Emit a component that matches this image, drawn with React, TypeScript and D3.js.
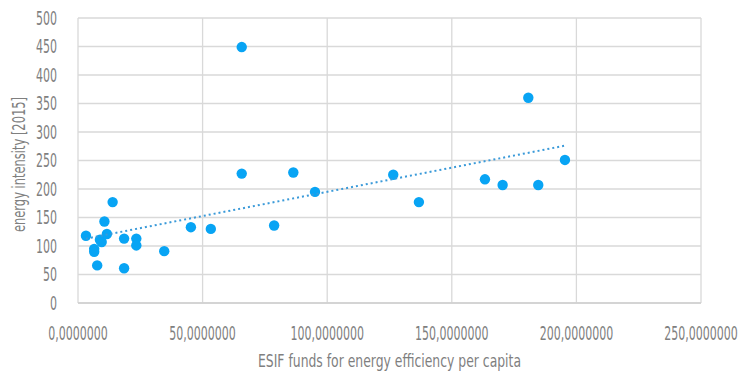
import React from 'react';
import * as d3 from 'd3';

// ESIF funds per capita (x) vs energy intensity 2015 (y)
const fundsPerCapita = [
  3.2, 6.5, 6.5, 7.7, 8.8, 9.5, 10.6, 11.6, 13.9, 18.5, 18.5, 23.4, 23.4, 34.6,
  45.3, 53.3, 65.7, 65.7, 78.7, 86.4, 95.1, 126.5, 136.8, 163.3, 170.4, 180.7, 184.7, 195.4,
];
const energyIntensity = [
  118, 95, 90, 66, 111, 107, 143, 121, 177, 113, 61, 113, 101, 91,
  133, 130, 449, 227, 136, 229, 195, 225, 177, 217, 207, 360, 207, 251,
];
const xTicks = [0, 50, 100, 150, 200, 250];
const xTickLabels = ['0,0000000', '50,0000000', '100,0000000', '150,0000000', '200,0000000', '250,0000000'];
const yTicks = [0, 50, 100, 150, 200, 250, 300, 350, 400, 450, 500];

const W = 743;
const H = 375;
const margin = { top: 18, right: 42, bottom: 72, left: 78 };
const font = '"DejaVu Sans Condensed", "Liberation Sans", sans-serif';
const grey = '#7f7f7f';
// the reference uses a narrow DIN-like face; squeeze DejaVu horizontally to match
const squeeze = 0.645;

const App: React.FC = () => {
  const x = d3.scaleLinear().domain([0, 250]).range([margin.left, W - margin.right]);
  const y = d3.scaleLinear().domain([0, 500]).range([H - margin.bottom, margin.top]);

  const points = fundsPerCapita.map((v, i) => ({ x: v, y: energyIntensity[i] }));

  // Linear trendline (least squares) over the data's x range
  const mx = d3.mean(points, d => d.x) || 0;
  const my = d3.mean(points, d => d.y) || 0;
  const slope =
    d3.sum(points, d => (d.x - mx) * (d.y - my)) / d3.sum(points, d => (d.x - mx) ** 2);
  const intercept = my - slope * mx;
  const [xmin, xmax] = d3.extent(points, d => d.x) as [number, number];
  const trend = d3.line<number>()
    .x(d => x(d))
    .y(d => y(intercept + slope * d))([xmin, xmax]);

  return (
    <div style={{ position: 'absolute', left: 0, top: 0 }}>
      <svg width={W} height={H} style={{ display: 'block', background: '#fff' }}>
        {/* grid */}
        {yTicks.map(t => (
          <line key={'gy' + t} x1={x(0)} x2={x(250)} y1={y(t)} y2={y(t)} stroke="#d9d9d9" strokeWidth={1.3} />
        ))}
        {xTicks.map(t => (
          <line key={'gx' + t} x1={x(t)} x2={x(t)} y1={y(0)} y2={y(500)} stroke="#d9d9d9" strokeWidth={1.3} />
        ))}
        <line x1={x(0)} x2={x(250)} y1={y(0)} y2={y(0)} stroke="#cfcfcf" strokeWidth={1.3} />

        {/* tick labels */}
        {yTicks.map(t => (
          <text key={'ly' + t} transform={`translate(${x(0) - 21},${y(t)}) scale(${squeeze},1)`}
            dy="0.36em" textAnchor="end" fill={grey} fontFamily={font} fontSize={19}>{t}</text>
        ))}
        {xTicks.map((t, i) => (
          <text key={'lx' + t} transform={`translate(${x(t)},${y(0) + 37}) scale(${squeeze},1)`}
            textAnchor="middle" fill={grey} fontFamily={font} fontSize={19}>{xTickLabels[i]}</text>
        ))}

        {/* points */}
        {points.map((d, i) => (
          <circle key={i} cx={x(d.x)} cy={y(d.y)} r={5.2} fill="#08a4f4" />
        ))}

        {/* trendline */}
        <path d={trend || ''} fill="none" stroke="#3a9ad9" strokeWidth={2} strokeDasharray="2,3" />

        {/* axis titles */}
        <text x={389.5} y={367} textAnchor="middle" fill={grey}
          fontFamily={font} fontSize={18} textLength={263} lengthAdjust="spacingAndGlyphs">
          ESIF funds for energy efficiency per capita
        </text>
        <text transform={`translate(25,164.5) rotate(-90)`} textAnchor="middle"
          fill={grey} fontFamily={font} fontSize={18} textLength={135} lengthAdjust="spacingAndGlyphs">
          energy intensity [2015]
        </text>
      </svg>
    </div>
  );
};

export default App;
